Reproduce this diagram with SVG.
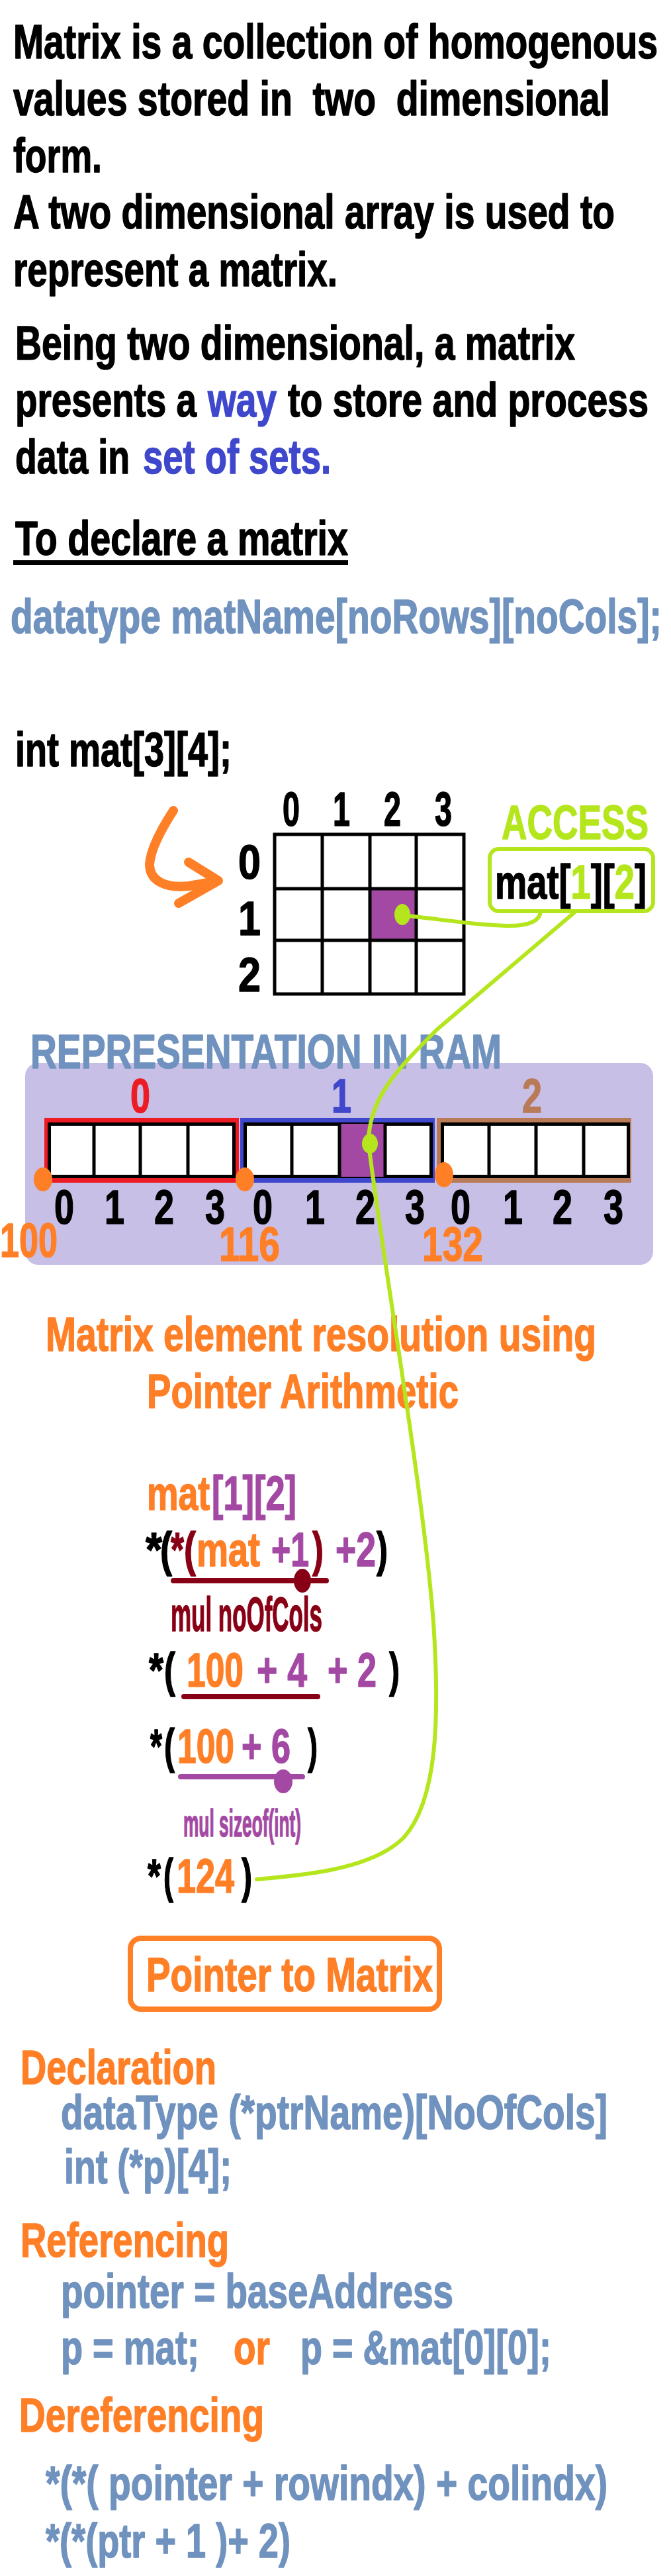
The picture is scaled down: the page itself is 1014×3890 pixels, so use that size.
<svg xmlns="http://www.w3.org/2000/svg" width="1014" height="3890" viewBox="0 0 1014 3890">
<style>
text { font-family: "Liberation Sans", Arial, sans-serif; font-weight: bold; font-size: 72px; fill: #000; stroke: #000; stroke-width: 1.5; stroke-linejoin: round; }
.o { fill: #FF7F27; stroke: #FF7F27; } .sb { fill: #7092BE; stroke: #7092BE; } .pu { fill: #A349A4; stroke: #A349A4; } .gr { fill: #B5E61D; stroke: #B5E61D; }
.mr { fill: #880015; stroke: #880015; } .bl { fill: #3F48CC; stroke: #3F48CC; } .rd { fill: #ED1C24; stroke: #ED1C24; } .br { fill: #B97A57; stroke: #B97A57; }
.cell { fill: #fff; stroke: #000; stroke-width: 5; }
.gl { stroke: #000; stroke-width: 5; }
.conn { fill: none; stroke: #B5E61D; stroke-width: 6; stroke-linecap: round; }
</style>
<rect width="1014" height="3890" fill="#fff"/>

<g id="intro">
<text x="20" y="88" textLength="974" lengthAdjust="spacingAndGlyphs">Matrix is a collection of homogenous</text>
<text x="20" y="174" textLength="902" lengthAdjust="spacingAndGlyphs" xml:space="preserve">values stored in  two  dimensional</text>
<text x="20" y="260" textLength="134" lengthAdjust="spacingAndGlyphs">form.</text>
<text x="20" y="345" textLength="909" lengthAdjust="spacingAndGlyphs">A two dimensional array is used to</text>
<text x="20" y="432" textLength="490" lengthAdjust="spacingAndGlyphs">represent a matrix.</text>
<text x="23" y="543" textLength="846" lengthAdjust="spacingAndGlyphs">Being two dimensional, a matrix</text>
<text x="23" y="629" textLength="274" lengthAdjust="spacingAndGlyphs">presents a</text>
<text class="bl" x="314" y="629" textLength="104" lengthAdjust="spacingAndGlyphs">way</text>
<text x="435" y="629" textLength="545" lengthAdjust="spacingAndGlyphs">to store and process</text>
<text x="23" y="715" textLength="173" lengthAdjust="spacingAndGlyphs">data in</text>
<text class="bl" x="216" y="715" textLength="284" lengthAdjust="spacingAndGlyphs">set of sets.</text>
</g>

<g id="declare">
<text x="23" y="838" textLength="503" lengthAdjust="spacingAndGlyphs">To declare a matrix</text>
<rect x="20" y="846" width="506" height="7" fill="#000"/>
<text class="sb" x="16" y="956" textLength="984" lengthAdjust="spacingAndGlyphs">datatype matName[noRows][noCols];</text>
<text x="23" y="1157" textLength="327" lengthAdjust="spacingAndGlyphs">int mat[3][4];</text>
</g>

<g id="grid">
<text x="427" y="1247" textLength="26" lengthAdjust="spacingAndGlyphs">0</text>
<text x="503" y="1247" textLength="26" lengthAdjust="spacingAndGlyphs">1</text>
<text x="580" y="1247" textLength="26" lengthAdjust="spacingAndGlyphs">2</text>
<text x="657" y="1247" textLength="26" lengthAdjust="spacingAndGlyphs">3</text>
<text x="360" y="1327" textLength="34" lengthAdjust="spacingAndGlyphs">0</text>
<text x="360" y="1412" textLength="34" lengthAdjust="spacingAndGlyphs">1</text>
<text x="360" y="1497" textLength="34" lengthAdjust="spacingAndGlyphs">2</text>
<rect x="415" y="1260" width="286" height="241" fill="#fff"/>
<rect x="559" y="1342" width="70" height="78" fill="#A349A4"/>
<line class="gl" x1="487" y1="1260" x2="487" y2="1501"/>
<line class="gl" x1="559" y1="1260" x2="559" y2="1501"/>
<line class="gl" x1="629" y1="1260" x2="629" y2="1501"/>
<line class="gl" x1="415" y1="1342" x2="701" y2="1342"/>
<line class="gl" x1="415" y1="1420" x2="701" y2="1420"/>
<rect x="415" y="1260" width="286" height="241" fill="none" stroke="#000" stroke-width="5"/>
</g>

<g id="access">
<text class="gr" x="758" y="1267" textLength="222" lengthAdjust="spacingAndGlyphs">ACCESS</text>
<rect x="740" y="1282" width="247" height="94" rx="14" fill="#fff" stroke="#B5E61D" stroke-width="6"/>
<text x="748" y="1357" textLength="229" lengthAdjust="spacingAndGlyphs">mat[<tspan class="gr">1</tspan>][<tspan class="gr">2</tspan>]</text>
</g>

<g id="ram">
<rect x="38" y="1605" width="949" height="305" rx="20" fill="#C8BFE7"/>
<text class="sb" x="46" y="1613" textLength="712" lengthAdjust="spacingAndGlyphs">REPRESENTATION IN RAM</text>
<text class="rd" x="197" y="1680" textLength="30" lengthAdjust="spacingAndGlyphs">0</text>
<text class="bl" x="501" y="1680" textLength="30" lengthAdjust="spacingAndGlyphs">1</text>
<text class="br" x="789" y="1680" textLength="30" lengthAdjust="spacingAndGlyphs">2</text>
<rect x="67" y="1688" width="294" height="98" fill="#ED1C24"/>
<rect x="74.5" y="1697.5" width="279" height="79" class="cell"/>
<line class="gl" x1="142" y1="1695" x2="142" y2="1779"/>
<line class="gl" x1="212" y1="1695" x2="212" y2="1779"/>
<line class="gl" x1="284" y1="1695" x2="284" y2="1779"/>
<rect x="363" y="1688" width="294" height="98" fill="#3F48CC"/>
<rect x="370.5" y="1697.5" width="281" height="79" class="cell"/>
<rect x="513" y="1697" width="69" height="80" fill="#A349A4"/>
<line class="gl" x1="441" y1="1695" x2="441" y2="1779"/>
<line class="gl" x1="513" y1="1695" x2="513" y2="1779"/>
<line class="gl" x1="582" y1="1695" x2="582" y2="1779"/>
<rect x="660" y="1688" width="294" height="98" fill="#B97A57"/>
<rect x="668.5" y="1697.5" width="281" height="79" class="cell"/>
<line class="gl" x1="739" y1="1695" x2="739" y2="1779"/>
<line class="gl" x1="810" y1="1695" x2="810" y2="1779"/>
<line class="gl" x1="882" y1="1695" x2="882" y2="1779"/>
<ellipse cx="65" cy="1781" rx="14" ry="18" fill="#FF7F27"/>
<ellipse cx="370" cy="1781" rx="14" ry="18" fill="#FF7F27"/>
<ellipse cx="671" cy="1774" rx="14" ry="19" fill="#FF7F27"/>
<text x="82" y="1848" textLength="30" lengthAdjust="spacingAndGlyphs">0</text>
<text x="158" y="1848" textLength="30" lengthAdjust="spacingAndGlyphs">1</text>
<text x="233" y="1848" textLength="30" lengthAdjust="spacingAndGlyphs">2</text>
<text x="310" y="1848" textLength="30" lengthAdjust="spacingAndGlyphs">3</text>
<text x="382" y="1848" textLength="30" lengthAdjust="spacingAndGlyphs">0</text>
<text x="461" y="1848" textLength="30" lengthAdjust="spacingAndGlyphs">1</text>
<text x="537" y="1848" textLength="30" lengthAdjust="spacingAndGlyphs">2</text>
<text x="612" y="1848" textLength="30" lengthAdjust="spacingAndGlyphs">3</text>
<text x="681" y="1848" textLength="30" lengthAdjust="spacingAndGlyphs">0</text>
<text x="760" y="1848" textLength="30" lengthAdjust="spacingAndGlyphs">1</text>
<text x="835" y="1848" textLength="30" lengthAdjust="spacingAndGlyphs">2</text>
<text x="912" y="1848" textLength="30" lengthAdjust="spacingAndGlyphs">3</text>
<text class="o" x="0" y="1898" textLength="87" lengthAdjust="spacingAndGlyphs">100</text>
<text class="o" x="331" y="1904" textLength="92" lengthAdjust="spacingAndGlyphs">116</text>
<text class="o" x="638" y="1904" textLength="92" lengthAdjust="spacingAndGlyphs">132</text>
</g>

<g id="resolution">
<text class="o" x="69" y="2040" textLength="832" lengthAdjust="spacingAndGlyphs">Matrix element resolution using</text>
<text class="o" x="222" y="2126" textLength="471" lengthAdjust="spacingAndGlyphs">Pointer Arithmetic</text>
<text class="o" x="222" y="2280" textLength="95" lengthAdjust="spacingAndGlyphs">mat</text>
<text class="pu" x="320" y="2280" textLength="128" lengthAdjust="spacingAndGlyphs">[1][2]</text>

<text x="220" y="2365" textLength="25" lengthAdjust="spacingAndGlyphs">*</text>
<text x="242" y="2365" textLength="18" lengthAdjust="spacingAndGlyphs">(</text>
<text class="mr" x="258" y="2365" textLength="20" lengthAdjust="spacingAndGlyphs">*</text>
<text class="mr" x="278" y="2365" textLength="18" lengthAdjust="spacingAndGlyphs">(</text>
<text class="o" x="297" y="2365" textLength="96" lengthAdjust="spacingAndGlyphs">mat</text>
<text class="pu" x="410" y="2365" textLength="57" lengthAdjust="spacingAndGlyphs">+1</text>
<text class="mr" x="472" y="2365" textLength="17" lengthAdjust="spacingAndGlyphs">)</text>
<text class="pu" x="507" y="2365" textLength="61" lengthAdjust="spacingAndGlyphs">+2</text>
<text x="569" y="2365" textLength="17" lengthAdjust="spacingAndGlyphs">)</text>
<line x1="262" y1="2387" x2="493" y2="2387" stroke="#880015" stroke-width="8" stroke-linecap="round"/>
<ellipse cx="457" cy="2387" rx="13" ry="18" fill="#880015"/>
<text class="mr" x="258" y="2463" textLength="229" lengthAdjust="spacingAndGlyphs">mul noOfCols</text>

<text x="225" y="2547" textLength="22" lengthAdjust="spacingAndGlyphs">*</text>
<text x="248" y="2547" textLength="17" lengthAdjust="spacingAndGlyphs">(</text>
<text class="o" x="282" y="2547" textLength="86" lengthAdjust="spacingAndGlyphs">100</text>
<text class="pu" x="388" y="2547" textLength="76" lengthAdjust="spacingAndGlyphs">+ 4</text>
<text class="pu" x="495" y="2547" textLength="74" lengthAdjust="spacingAndGlyphs">+ 2</text>
<text x="588" y="2547" textLength="16" lengthAdjust="spacingAndGlyphs">)</text>
<line x1="278" y1="2562" x2="480" y2="2562" stroke="#880015" stroke-width="8" stroke-linecap="round"/>

<text x="227" y="2662" textLength="18" lengthAdjust="spacingAndGlyphs">*</text>
<text x="248" y="2662" textLength="16" lengthAdjust="spacingAndGlyphs">(</text>
<text class="o" x="268" y="2662" textLength="86" lengthAdjust="spacingAndGlyphs">100</text>
<text class="pu" x="365" y="2662" textLength="74" lengthAdjust="spacingAndGlyphs">+ 6</text>
<text x="465" y="2662" textLength="15" lengthAdjust="spacingAndGlyphs">)</text>
<line x1="273" y1="2683" x2="457" y2="2683" stroke="#A349A4" stroke-width="8" stroke-linecap="round"/>
<ellipse cx="428" cy="2690" rx="14" ry="18" fill="#A349A4"/>
<text class="pu" x="277" y="2773" textLength="178" lengthAdjust="spacingAndGlyphs" style="font-size:57px">mul sizeof(int)</text>

<text x="223" y="2858" textLength="20" lengthAdjust="spacingAndGlyphs">*</text>
<text x="247" y="2858" textLength="15" lengthAdjust="spacingAndGlyphs">(</text>
<text class="o" x="267" y="2858" textLength="87" lengthAdjust="spacingAndGlyphs">124</text>
<text x="365" y="2858" textLength="16" lengthAdjust="spacingAndGlyphs">)</text>
</g>

<g id="pointer-to-matrix">
<rect x="197" y="2927" width="467" height="107" rx="16" fill="none" stroke="#FF7F27" stroke-width="8"/>
<text class="o" x="221" y="3007" textLength="433" lengthAdjust="spacingAndGlyphs">Pointer to Matrix</text>
</g>

<g id="pointer-details">
<text class="o" x="31" y="3147" textLength="296" lengthAdjust="spacingAndGlyphs">Declaration</text>
<text class="sb" x="92" y="3215" textLength="826" lengthAdjust="spacingAndGlyphs">dataType (*ptrName)[NoOfCols]</text>
<text class="sb" x="97" y="3297" textLength="253" lengthAdjust="spacingAndGlyphs">int (*p)[4];</text>
<text class="o" x="31" y="3408" textLength="315" lengthAdjust="spacingAndGlyphs">Referencing</text>
<text class="sb" x="92" y="3485" textLength="593" lengthAdjust="spacingAndGlyphs">pointer = baseAddress</text>
<text class="sb" x="92" y="3570" textLength="209" lengthAdjust="spacingAndGlyphs">p = mat;</text>
<text class="o" x="353" y="3570" textLength="55" lengthAdjust="spacingAndGlyphs">or</text>
<text class="sb" x="454" y="3570" textLength="379" lengthAdjust="spacingAndGlyphs">p = &amp;mat[0][0];</text>
<text class="o" x="29" y="3672" textLength="370" lengthAdjust="spacingAndGlyphs">Dereferencing</text>
<text class="sb" x="69" y="3775" textLength="849" lengthAdjust="spacingAndGlyphs">*(*( pointer + rowindx) + colindx)</text>
<text class="sb" x="69" y="3862" textLength="370" lengthAdjust="spacingAndGlyphs">*(*(ptr + 1 )+ 2)</text>
</g>

<g id="connectors">
<path d="M 262 1224 C 245 1250, 228 1280, 226 1305 C 226 1330, 250 1342, 285 1338 L 326 1331" fill="none" stroke="#FF7F27" stroke-width="14" stroke-linecap="round" stroke-linejoin="round"/>
<polyline points="285,1302 330,1330 270,1364" fill="none" stroke="#FF7F27" stroke-width="14" stroke-linecap="round" stroke-linejoin="round"/>
<path class="conn" d="M 608 1382 C 680 1390, 730 1398, 770 1398 C 800 1398, 815 1390, 817 1377"/>
<ellipse cx="608" cy="1381" rx="12" ry="16" fill="#B5E61D"/>
<path class="conn" d="M 869 1377 L 660 1555 C 600 1615, 556 1660, 557 1727 C 575 1880, 640 2250, 655 2450 C 665 2600, 660 2720, 610 2775 C 560 2825, 450 2832, 388 2838"/>
<ellipse cx="559" cy="1727" rx="12" ry="15" fill="#B5E61D"/>
</g>
</svg>
